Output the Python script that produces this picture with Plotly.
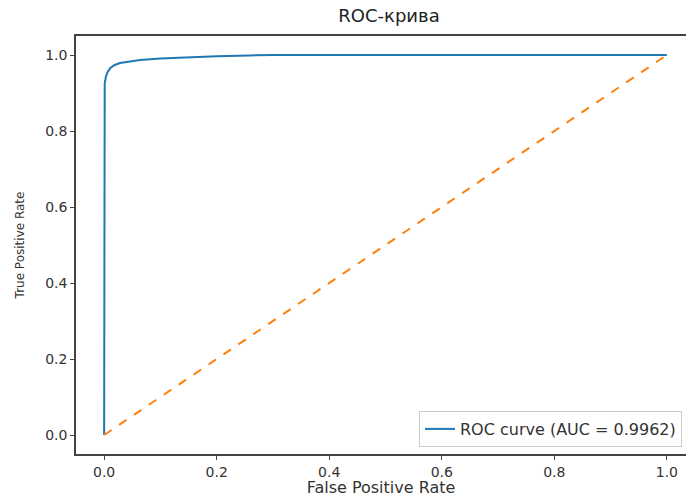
import plotly.graph_objects as go

# ROC curve points
fpr = [0.0, 0.0, 0.0, 0.001, 0.003, 0.006, 0.011, 0.018, 0.028, 0.045, 0.064, 0.1, 0.158, 0.2, 0.259, 0.3, 0.6, 1.0]
tpr = [0.0, 0.5, 0.9, 0.925, 0.942, 0.955, 0.966, 0.973, 0.979, 0.983, 0.987, 0.991, 0.995, 0.997, 0.999, 1.0, 1.0, 1.0]
diag_x = [0.0, 1.0]
diag_y = [0.0, 1.0]
auc_label = "ROC curve (AUC = 0.9962)"
x_ticks = [0.0, 0.2, 0.4, 0.6, 0.8, 1.0]
y_ticks = [0.0, 0.2, 0.4, 0.6, 0.8, 1.0]

fig = go.Figure()
fig.add_trace(go.Scatter(x=fpr, y=tpr, mode="lines", name=auc_label,
                         line=dict(color="#1f77b4", width=2)))
fig.add_trace(go.Scatter(x=diag_x, y=diag_y, mode="lines", showlegend=False,
                         line=dict(color="#ff7f0e", width=2, dash="dash")))

font = "DejaVu Sans"
fig.update_layout(
    width=686, height=497,
    margin=dict(l=76, r=0, t=36, b=43, autoexpand=False),
    paper_bgcolor="white", plot_bgcolor="white",
    font=dict(family=font, color="#333333", size=14),
    title=dict(text="ROC-крива", x=389 / 686, xanchor="center",
               y=1 - 16 / 497, yanchor="middle", font=dict(size=18, color="#222222")),
    legend=dict(x=(682 - 76) / 610, xanchor="right", y=(454 - 447) / 418, yanchor="bottom",
                bordercolor="#cccccc", borderwidth=1, bgcolor="white", itemwidth=30,
                font=dict(size=16, color="#333333")),
    xaxis=dict(range=[-0.05, 1.034], tickvals=x_ticks, ticktext=[f"{v:.1f}" for v in x_ticks],
               showgrid=False, zeroline=False, showline=True, mirror=True, automargin=False,
               linecolor="#444444", linewidth=1.5, ticks="outside", ticklen=4,
               tickcolor="#444444", tickfont=dict(size=14),
               title=dict(text="False Positive Rate", font=dict(size=16), standoff=6)),
    yaxis=dict(range=[-0.05, 1.05], tickvals=y_ticks, ticktext=[f"{v:.1f}" for v in y_ticks],
               showgrid=False, zeroline=False, showline=True, mirror=False, automargin=False,
               linecolor="#444444", linewidth=1.5, ticks="outside", ticklen=4,
               tickcolor="#444444", tickfont=dict(size=14),
               title=dict(text="True Positive Rate", font=dict(size=12), standoff=18)),
)
fig.write_html("out.html", config={"displayModeBar": False},
               post_script="document.body.style.margin='0';document.body.style.overflow='hidden';")
